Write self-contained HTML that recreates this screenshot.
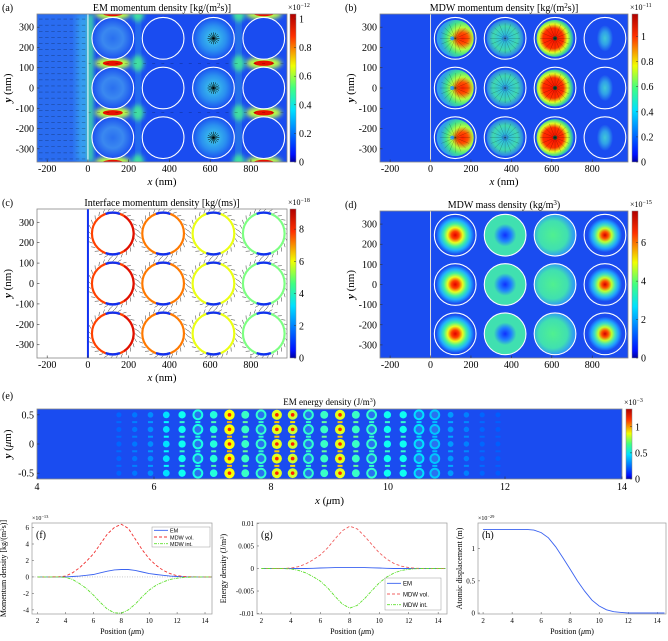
<!DOCTYPE html>
<html><head><meta charset="utf-8"><title>Momentum density figure</title>
<style>
html,body{margin:0;padding:0;background:#fff;}
svg{display:block;}
.ser{font-family:"Liberation Serif",serif;}
.san{font-family:"Liberation Sans",sans-serif;}
</style></head>
<body>
<svg id="fig" width="668" height="641" viewBox="0 0 668 641" xmlns="http://www.w3.org/2000/svg">
<defs>
<filter id="blur2" x="-50%" y="-50%" width="200%" height="200%"><feGaussianBlur stdDeviation="2.5"/></filter>
<filter id="blur4" x="-50%" y="-50%" width="200%" height="200%"><feGaussianBlur stdDeviation="4"/></filter>
<linearGradient id="jetv" x1="0" y1="1" x2="0" y2="0">
<stop offset="0" stop-color="#0000a0"/><stop offset="0.05" stop-color="#0010ff"/><stop offset="0.35" stop-color="#00e0ff"/><stop offset="0.5" stop-color="#40ff80"/><stop offset="0.65" stop-color="#f0ff00"/><stop offset="0.85" stop-color="#ff3000"/><stop offset="1" stop-color="#b00000"/>
</linearGradient>
<radialGradient id="gA3"><stop offset="0" stop-color="#40d0e8"/><stop offset="0.6" stop-color="#2a90f0"/><stop offset="1" stop-color="#1a50f0"/></radialGradient>
<radialGradient id="gA1"><stop offset="0" stop-color="#2a70f0"/><stop offset="0.5" stop-color="#3a88f0"/><stop offset="1" stop-color="#1a50f0"/></radialGradient>
<radialGradient id="gB1" cx="0.7" cy="0.5" r="0.6"><stop offset="0" stop-color="#ff2000"/><stop offset="0.25" stop-color="#ff5000"/><stop offset="0.5" stop-color="#b0ff40"/><stop offset="0.75" stop-color="#40e090"/><stop offset="1" stop-color="#30a0e8"/></radialGradient>
<radialGradient id="gB2" cx="0.5" cy="0.5" r="0.55"><stop offset="0" stop-color="#2060ff"/><stop offset="0.18" stop-color="#30c0e0"/><stop offset="0.6" stop-color="#40d8b0"/><stop offset="0.85" stop-color="#3090e0"/><stop offset="1" stop-color="#1a50f0"/></radialGradient>
<radialGradient id="gB3" cx="0.45" cy="0.5" r="0.55"><stop offset="0" stop-color="#ff1000"/><stop offset="0.5" stop-color="#ff3000"/><stop offset="0.7" stop-color="#e0ff20"/><stop offset="0.88" stop-color="#40d890"/><stop offset="1" stop-color="#2a80f0"/></radialGradient>
<radialGradient id="gB4" cx="0.5" cy="0.5" r="0.5"><stop offset="0" stop-color="#40c8d8"/><stop offset="0.5" stop-color="#30a0e8"/><stop offset="1" stop-color="#1a50f0"/></radialGradient>
<radialGradient id="gD1"><stop offset="0" stop-color="#e00000"/><stop offset="0.2" stop-color="#ff4000"/><stop offset="0.4" stop-color="#e8ff20"/><stop offset="0.6" stop-color="#40f0a0"/><stop offset="0.8" stop-color="#20b0ff"/><stop offset="1" stop-color="#1a50f0"/></radialGradient>
<radialGradient id="gD2"><stop offset="0" stop-color="#1030ff"/><stop offset="0.3" stop-color="#2080ff"/><stop offset="0.55" stop-color="#40e0b0"/><stop offset="1" stop-color="#40e0b0"/></radialGradient>
<radialGradient id="gD3" cx="0.45"><stop offset="0" stop-color="#50f090"/><stop offset="0.7" stop-color="#40e0b0"/><stop offset="1" stop-color="#30a0f0"/></radialGradient>
<radialGradient id="gD4"><stop offset="0" stop-color="#d00000"/><stop offset="0.2" stop-color="#ff5000"/><stop offset="0.4" stop-color="#c0ff30"/><stop offset="0.6" stop-color="#40e0c0"/><stop offset="0.8" stop-color="#20a0ff"/><stop offset="1" stop-color="#1a50f0"/></radialGradient>
</defs>
</svg>
<script>
// ===== data arrays =====
const circleX = [122, 369, 616, 863];
const circleY = [245, 0, -245];
const circleR = 103;
const nmTicksX = [-200, 0, 200, 400, 600, 800];
const nmTicksY = [300, 200, 100, 0, -100, -200, -300];
const cbTicksA = [0, 0.2, 0.4, 0.6, 0.8, 1];
const cbTicksB = [0, 0.2, 0.4, 0.6, 0.8, 1];
const cbTicksC = [0, 2, 4, 6, 8];
const cbTicksD = [0, 2, 4, 6];
const cbTicksE = [0, 0.5, 1];
const ringLevelC = [7.5, 7.0, 5.6, 4.6];
const eCols = [5.4,5.67,5.94,6.21,6.48,6.75,7.02,7.29,7.56,7.83,8.1,8.37,8.64,8.91,9.18,9.45,9.72,9.99,10.26,10.53,10.8,11.07,11.34,11.61,11.88];
const eVals = [0.06,0.1,0.15,0.35,0.45,0.4,0.5,1.0,0.55,0.45,0.95,0.9,0.45,0.55,0.95,0.55,0.45,0.45,0.45,0.28,0.22,0.18,0.12,0.06,0.04];
const eRing = [0,0,0,0,0,1,0,0,0,1,0,0,1,0,0,0,1,0,0,1,1,0,0,0,0];
const eRows = [0.5, 0.25, 0, -0.25, -0.5];
const eTicksX = [4, 6, 8, 10, 12, 14];
const eTicksY = [0.5, 0, -0.5];
const pos = [2,2.5,3,3.5,4,4.5,5,5.5,6,6.5,7,7.5,8,8.5,9,9.5,10,10.5,11,11.5,12,12.5,13,13.5,14,14.5];
const fEM  = [0,0,0,0,0,0.05,0.1,0.2,0.3,0.5,0.7,0.85,0.9,0.9,0.8,0.6,0.4,0.3,0.2,0.1,0.05,0.02,0,0,0,0];
const fVol = [0,0,0,0.02,0.1,0.5,1.1,1.9,2.8,4.0,5.2,6.0,6.4,5.9,4.6,3.3,2.2,1.4,0.8,0.4,0.15,0.05,0.02,0,0,0];
const fInt = [0,0,0,0,-0.05,-0.3,-0.8,-1.4,-2.2,-3.1,-3.9,-4.35,-4.4,-4.0,-3.3,-2.4,-1.6,-1.0,-0.6,-0.3,-0.15,-0.05,-0.02,0,0,0];
const gEM  = [0,0,0,0,0,0,0,0.05,0.1,0.15,0.2,0.2,0.2,0.2,0.2,0.15,0.1,0.05,0,0,0,0,0,0,0,0];
const gVol = [0,0,0,0,0.1,0.4,1.0,1.9,3.0,4.6,6.6,8.4,9.4,8.8,7.2,5.3,3.5,2.1,1.1,0.5,0.2,0.05,0,0,0,0];
const gInt = [0,0,0,0,-0.1,-0.4,-0.95,-1.8,-2.8,-4.3,-6.2,-7.9,-8.8,-8.2,-6.7,-4.9,-3.2,-1.9,-1.0,-0.45,-0.18,-0.05,0,0,0,0];
const hDisp = [1.3,1.3,1.3,1.3,1.3,1.3,1.3,1.29,1.25,1.17,1.03,0.86,0.68,0.5,0.34,0.2,0.11,0.05,0.02,0.01,0,0,0,0,0,0];
const posTicks = [2,4,6,8,10,12,14];
const fTicks = [-4,-2,0,2,4,6];
const gTicks = [-0.01,-0.005,0,0.005,0.01];
const gTickLbl = ['-0.01','-0.005','0','0.005','0.01'];
const hTicks = [0,0.5,1];

// ===== helpers =====
const NS='http://www.w3.org/2000/svg';
const fig=document.getElementById('fig');
function mk(tag, a, parent){const e=document.createElementNS(NS,tag);for(const k in a)e.setAttribute(k,a[k]);(parent||fig).appendChild(e);return e;}
function txt(s,x,y,size,anchor,parent,cls){const t=mk('text',{x:x,y:y,'font-size':size,'text-anchor':anchor||'middle',class:cls||'ser',fill:'#000'},parent);t.textContent=s;return t;}
function lin(d0,d1,r0,r1){return v=>r0+(v-d0)/(d1-d0)*(r1-r0);}
function clamp(v){return Math.max(0,Math.min(1,v));}
function jet(v){const r=clamp(1.5-Math.abs(4*v-3)),g=clamp(1.5-Math.abs(4*v-2)),b=clamp(1.5-Math.abs(4*v-1));return `rgb(${Math.round(r*255)},${Math.round(g*255)},${Math.round(b*255)})`;}
const BG='#1a4cf0';

function mapPanel(P){
  const g=mk('g',{});
  
  
  P.sx=lin(-250,977,P.x0,P.x1); P.sy=lin(365,-365,P.y0,P.y1);
  P.g=g;
  const clip=mk('clipPath',{id:'clip-'+P.name},g);
  mk('rect',{x:P.x0,y:P.y0,width:P.x1-P.x0,height:P.y1-P.y0},clip);
  P.inner=mk('g',{'clip-path':'url(#clip-'+P.name+')'},g);
  const bg=mk('rect',{x:P.x0,y:P.y0,width:P.x1-P.x0,height:P.y1-P.y0,fill:P.bg},P.inner);
  
  
  return P;
}
function mapAxes(P,xlab){
  const g=P.g;
  const fr=mk('rect',{x:P.x0,y:P.y0,width:P.x1-P.x0,height:P.y1-P.y0,fill:'none',stroke:'#888','stroke-width':0.8},g);
  
  
  nmTicksX.forEach(v=>{const x=P.sx(v);mk('line',{x1:x,x2:x,y1:P.y1,y2:P.y1-2.5,stroke:'#333','stroke-width':0.6},g);
    const t=txt(String(v),x,P.y1+10,10,'middle',g);
    
    });
  nmTicksY.forEach(v=>{const y=P.sy(v);mk('line',{x1:P.x0,x2:P.x0+2.5,y1:y,y2:y,stroke:'#333','stroke-width':0.6},g);
    const t=txt(String(v),P.x0-3,y+3.5,10,'end',g);
    
    });
  if(xlab){const t=mk('text',{x:(P.x0+P.x1)/2,y:P.y1+23,'font-size':11,'text-anchor':'middle',class:'ser'},g);
    t.innerHTML='<tspan font-style="italic">x</tspan> (nm)';
    
    }
  const yl=mk('text',{x:0,y:0,'font-size':11,'text-anchor':'middle',class:'ser',transform:`translate(${P.x0-26},${(P.y0+P.y1)/2}) rotate(-90)`},g);
  yl.innerHTML='<tspan font-style="italic" font-weight="bold">y</tspan> (nm)';
  
  
  const lb=txt(P.label,P.x0-35,P.y0-3,10,'start',g);
  
  
  const tt=mk('text',{x:(P.x0+P.x1)/2,y:P.y0-3,'font-size':10,'text-anchor':'middle',class:'ser'},g);
  tt.innerHTML=P.title;
  
  
}
function colorbar(name,x,y0,y1,max,ticks,expo,parent){
  const g=mk('g',{},parent);
  
  
  mk('rect',{x:x,y:y0,width:6,height:y1-y0,fill:'url(#jetv)',stroke:'#888','stroke-width':0.5},g);
  const s=lin(0,max,y1,y0);
  ticks.forEach(v=>{const y=s(v);mk('line',{x1:x+4,x2:x+6,y1:y,y2:y,stroke:'#333','stroke-width':0.5},g);
    const t=txt(String(v),x+9,y+3.5,10,'start',g);
    
    });
  const e=mk('text',{x:x-2,y:y0-4,'font-size':8,'text-anchor':'start',class:'ser'},g);
  e.innerHTML='×10<tspan dy="-3" font-size="6">'+expo+'</tspan>';
  
  
}
function whiteCircles(P,stroke,width){
  circleX.forEach(cx=>circleY.forEach(cy=>{
    const c=mk('circle',{cx:P.sx(cx),cy:P.sy(cy),r:circleR*0.2025,fill:'none',stroke:stroke,'stroke-width':width},P.inner);
    
    
  }));
}

// ===== (a) =====
const A=mapPanel({name:'panel-a-em-momentum',x0:37,x1:287,y0:14,y1:162,bg:BG,label:'(a)',title:'EM momentum density [kg/(m<tspan dy="-3" font-size="7">2</tspan><tspan dy="3">s)]</tspan>'});
mk('rect',{x:A.x0,y:A.y0,width:A.sx(0)-A.x0,height:A.y1-A.y0,fill:'#2a6cf0'},A.inner);
mk('rect',{x:A.sx(-50),y:A.y0,width:A.sx(0)-A.sx(-50),height:A.y1-A.y0,fill:'#38a8f0',filter:'url(#blur4)'},A.inner);
mk('rect',{x:A.sx(0),y:A.y0,width:A.sx(25)-A.sx(0),height:A.y1-A.y0,fill:'#40e0a0',filter:'url(#blur2)'},A.inner);
mk('rect',{x:A.sx(240),y:A.y0,width:A.sx(255)-A.sx(240),height:A.y1-A.y0,fill:'#38b0e8',filter:'url(#blur4)'},A.inner);
mk('rect',{x:A.sx(732),y:A.y0,width:A.sx(748)-A.sx(732),height:A.y1-A.y0,fill:'#38c0d8',filter:'url(#blur4)'},A.inner);
[367,122,-122,-367].forEach(yy=>{
  [122,863].forEach(xx=>{
    mk('ellipse',{cx:A.sx(xx),cy:A.sy(yy),rx:18,ry:6,fill:'#c0ff40',filter:'url(#blur2)'},A.inner);
    mk('ellipse',{cx:A.sx(xx),cy:A.sy(yy),rx:10,ry:2.6,fill:'#e81000'},A.inner);
  });
  mk('ellipse',{cx:A.sx(245),cy:A.sy(yy),rx:6,ry:8,fill:'#40e0a0',filter:'url(#blur2)'},A.inner);
  mk('ellipse',{cx:A.sx(740),cy:A.sy(yy),rx:6,ry:8,fill:'#40e0a0',filter:'url(#blur2)'},A.inner);
});
circleX.forEach((cx,i)=>circleY.forEach(cy=>{
  const f=i===0?'url(#gA1)':(i===2?'url(#gA3)':BG);
  const c=mk('circle',{cx:A.sx(cx),cy:A.sy(cy),r:circleR*0.2025,fill:f},A.inner);
  
  
}));
for(let xx=-240;xx<0;xx+=30){for(let yy=-350;yy<=350;yy+=30){
  mk('line',{x1:A.sx(xx),x2:A.sx(xx)+3.5,y1:A.sy(yy),y2:A.sy(yy),stroke:'#000','stroke-width':0.4,opacity:0.55},A.inner);}}
for(let xx=0;xx<977;xx+=45){[122,-122].forEach(yy=>{
  mk('line',{x1:A.sx(xx),x2:A.sx(xx)+3,y1:A.sy(yy),y2:A.sy(yy),stroke:'#000','stroke-width':0.4,opacity:0.5},A.inner);});}
circleY.forEach(cy=>{const x=A.sx(616),y=A.sy(cy);
  for(let k=0;k<8;k++){const a=k*Math.PI/8;mk('line',{x1:x-6*Math.cos(a),x2:x+6*Math.cos(a),y1:y-6*Math.sin(a),y2:y+6*Math.sin(a),stroke:'#000','stroke-width':0.5},A.inner);}});
mk('line',{x1:A.sx(0),x2:A.sx(0),y1:A.y0,y2:A.y1,stroke:'#fff','stroke-width':1},A.inner);
whiteCircles(A,'#fff',1.1);
mapAxes(A,true);
colorbar('colorbar-a',290,14,162,1.035,cbTicksA,'−12');

// ===== (b) =====
const B=mapPanel({name:'panel-b-mdw-momentum',x0:380,x1:628,y0:14,y1:162,bg:BG,label:'(b)',title:'MDW momentum density [kg/(m<tspan dy="-3" font-size="7">2</tspan><tspan dy="3">s)]</tspan>'});
const bFill=['url(#gB1)','url(#gB2)','url(#gB3)','url(#gB4)'];
circleX.forEach((cx,i)=>circleY.forEach(cy=>{
  let c;
  if(i===3){c=mk('ellipse',{cx:B.sx(cx),cy:B.sy(cy),rx:8,ry:13,fill:bFill[i]},B.inner);}
  else {c=mk('circle',{cx:B.sx(cx),cy:B.sy(cy),r:18.5,fill:bFill[i]},B.inner);}
  
  
  if(i<3){const x=B.sx(cx),y=B.sy(cy);
    const dx=i===0?-3:0;
    const dot=mk('circle',{cx:x+dx,cy:y,r:2,fill:i===2?'#206040':'#40b0ff'},B.inner);
    
    
    for(let k=0;k<8;k++){const a=k*Math.PI/8;mk('line',{x1:x-15*Math.cos(a),x2:x+15*Math.cos(a),y1:y-15*Math.sin(a),y2:y+15*Math.sin(a),stroke:'#000','stroke-width':0.35,opacity:0.45},B.inner);}}
}));
mk('line',{x1:B.sx(0),x2:B.sx(0),y1:B.y0,y2:B.y1,stroke:'#ddd','stroke-width':1},B.inner);
whiteCircles(B,'#fff',1.1);
mapAxes(B,true);
colorbar('colorbar-b',632,14,162,1.18,cbTicksB,'−11');

// ===== (c) =====
const C=mapPanel({name:'panel-c-interface-momentum',x0:37,x1:287,y0:209,y1:358,bg:'#fff',label:'(c)',title:'Interface momentum density [kg/(ms)]'});
const cS=lin(0,9.25,0,1);
circleX.forEach((cx,i)=>circleY.forEach(cy=>{
  const x=C.sx(cx),y=C.sy(cy),r=circleR*0.2025;
  for(let k=0;k<28;k++){const a=k*2*Math.PI/28;
    mk('line',{x1:x+(r+1.5)*Math.cos(a),y1:y+(r+1.5)*Math.sin(a),x2:x+(r+4.5)*Math.cos(a+0.12),y2:y+(r+4.5)*Math.sin(a+0.12),stroke:'#222','stroke-width':0.45},C.inner);}
  const ring=mk('circle',{cx:x,cy:y,r:r,fill:'none',stroke:jet(cS(ringLevelC[i])),'stroke-width':2.2},C.inner);
  
  
  if(i===0){mk('path',{d:`M${x+r*Math.cos(-1)} ${y+r*Math.sin(-1)} A${r} ${r} 0 0 1 ${x+r*Math.cos(1)} ${y+r*Math.sin(1)}`,fill:'none',stroke:'#e01000','stroke-width':2.2},C.inner);}
  [-Math.PI/2,Math.PI/2].forEach(a0=>{
    mk('path',{d:`M${x+r*Math.cos(a0-0.35)} ${y+r*Math.sin(a0-0.35)} A${r} ${r} 0 0 1 ${x+r*Math.cos(a0+0.35)} ${y+r*Math.sin(a0+0.35)}`,fill:'none',stroke:'#1030f0','stroke-width':2.4},C.inner);});
}));
mk('line',{x1:C.sx(0),x2:C.sx(0),y1:C.y0,y2:C.y1,stroke:'#1030f0','stroke-width':2},C.inner);
mapAxes(C,true);
colorbar('colorbar-c',290,209,358,9.25,cbTicksC,'−18');

// ===== (d) =====
const D=mapPanel({name:'panel-d-mdw-mass',x0:380,x1:628,y0:211,y1:358,bg:BG,label:'(d)',title:'MDW mass density (kg/m<tspan dy="-3" font-size="7">3</tspan><tspan dy="3">)</tspan>'});
const dFill=['url(#gD1)','url(#gD2)','url(#gD3)','url(#gD4)'];
const dR=[19,20.5,20.5,17];
circleX.forEach((cx,i)=>circleY.forEach(cy=>{
  const c=mk('circle',{cx:D.sx(cx),cy:D.sy(cy),r:dR[i],fill:dFill[i]},D.inner);
  
  
}));
mk('line',{x1:D.sx(0),x2:D.sx(0),y1:D.y0,y2:D.y1,stroke:'#ddd','stroke-width':1},D.inner);
whiteCircles(D,'#fff',1.1);
mapAxes(D,false);
colorbar('colorbar-d',632,211,358,7.65,cbTicksD,'−15');

// ===== (e) =====
(function(){
  const x0=37,x1=622,y0=409,y1=479;
  const g=mk('g',{});
  
  
  const sx=lin(4,14,x0,x1), sy=lin(0.6,-0.6,y0,y1);
  const bg=mk('rect',{x:x0,y:y0,width:x1-x0,height:y1-y0,fill:BG},g);
  
  
  const clip=mk('clipPath',{id:'clip-e'},g);
  mk('rect',{x:x0,y:y0,width:x1-x0,height:y1-y0},clip);
  const inner=mk('g',{'clip-path':'url(#clip-e)'},g);
  eCols.forEach((c,i)=>{
    const v=eVals[i], x=sx(c);
    eRows.forEach(r=>{
      const y=sy(r);
      if(eRing[i]){
        const ring=mk('circle',{cx:x,cy:y,r:4.4,fill:'#2a70f0',stroke:jet(0.22+v*0.45),'stroke-width':2},inner);
        
        
      } else {
        const d=mk('circle',{cx:x,cy:y,r:2.4+v*2.8,fill:jet(0.2+Math.min(1,v)*0.42)},inner);
        
        
        if(v>0.85){const h=mk('circle',{cx:x,cy:y,r:1.8,fill:'#ff2000'},inner);
          
          }
      }
    });
    [0.625,0.375,0.125,-0.125,-0.375,-0.625].forEach(r=>{
      const dash=mk('rect',{x:x-2.5,y:sy(r)-1,width:5,height:2,fill:jet(0.2+v*0.5)},inner);
      
      
    });
  });
  mk('rect',{x:x0,y:y0,width:x1-x0,height:y1-y0,fill:'none',stroke:'#888','stroke-width':0.8},g);
  eTicksX.forEach(v=>{const x=sx(v);mk('line',{x1:x,x2:x,y1:y1,y2:y1-2.5,stroke:'#333','stroke-width':0.6},g);
    const t=txt(String(v),x,y1+11,10,'middle',g);
    
    });
  eTicksY.forEach(v=>{const y=sy(v);mk('line',{x1:x0,x2:x0+2.5,y1:y,y2:y,stroke:'#333','stroke-width':0.6},g);
    const t=txt(String(v),x0-3,y+3.5,10,'end',g);
    
    });
  const xt=mk('text',{x:(x0+x1)/2,y:y1+25,'font-size':11,'text-anchor':'middle',class:'ser'},g);
  xt.innerHTML='<tspan font-style="italic">x</tspan> (<tspan font-style="italic">μ</tspan>m)';
  
  
  const yt=mk('text',{x:0,y:0,'font-size':11,'text-anchor':'middle',class:'ser',transform:`translate(${x0-26},${(y0+y1)/2}) rotate(-90)`},g);
  yt.innerHTML='<tspan font-style="italic" font-weight="bold">y</tspan> (<tspan font-style="italic">μ</tspan>m)';
  
  
  const lb=txt('(e)',2,y0-10,10,'start',g);
  
  
  const tt=mk('text',{x:(x0+x1)/2,y:y0-4,'font-size':9,'text-anchor':'middle',class:'ser'},g);
  tt.innerHTML='EM energy density (J/m<tspan dy="-3" font-size="6">3</tspan><tspan dy="3">)</tspan>';
  
  
  colorbar('colorbar-e',626,y0,y1,1.34,cbTicksE,'−3',g);
})();

// ===== line charts =====
function lineChart(o){
  const g=mk('g',{});
  
  
  const sx=lin(o.xd[0],o.xd[1],o.x0,o.x1), sy=lin(o.yd[0],o.yd[1],o.y1,o.y0);
  mk('rect',{x:o.x0,y:o.y0,width:o.x1-o.x0,height:o.y1-o.y0,fill:'#fff',stroke:'#999','stroke-width':0.7},g);
  if(o.zero){const z=mk('line',{x1:o.x0,x2:o.x1,y1:sy(0),y2:sy(0),stroke:'#aaa','stroke-width':0.6,'stroke-dasharray':'1,1.5'},g);
    
    }
  posTicks.forEach(v=>{const x=sx(v);mk('line',{x1:x,x2:x,y1:o.y1,y2:o.y1-2,stroke:'#555','stroke-width':0.5},g);
    const t=txt(String(v),x,o.y1+9,7,'middle',g);
    
    });
  o.yt.forEach((v,i)=>{const y=sy(v);mk('line',{x1:o.x0,x2:o.x0+2,y1:y,y2:y,stroke:'#555','stroke-width':0.5},g);
    const t=txt(o.ytl?o.ytl[i]:String(v),o.x0-3,y+2.5,7,'end',g);
    
    });
  o.series.forEach(s=>{
    const d=pos.map((p,i)=>(i?'L':'M')+sx(p).toFixed(1)+' '+sy(s.v[i]).toFixed(1)).join(' ');
    const p=mk('path',{d:d,fill:'none',stroke:s.c,'stroke-width':0.9,'stroke-dasharray':s.dash||'none'},g);
    
    
  });
  const xt=mk('text',{x:(o.x0+o.x1)/2,y:o.y1+20,'font-size':8,'text-anchor':'middle',class:'ser'},g);
  xt.innerHTML='Position (<tspan font-style="italic">μ</tspan>m)';
  
  
  const yt=mk('text',{x:0,y:0,'font-size':8,'text-anchor':'middle',class:'ser',transform:`translate(${o.ylx},${(o.y0+o.y1)/2}) rotate(-90)`},g);
  yt.innerHTML=o.ylab;
  
  
  const lb=txt(o.label,o.x0+4,o.y0+15,10,'start',g);
  
  
  if(o.expo){const e=mk('text',{x:o.x0,y:o.y0-3,'font-size':6,'text-anchor':'start',class:'ser'},g);
    e.innerHTML='×10<tspan dy="-2" font-size="4.5">'+o.expo+'</tspan>';
    
    }
  if(o.leg){const L=o.leg;
    const lg=mk('g',{},g);
    
    
    mk('rect',{x:L.x,y:L.y,width:L.w,height:L.h,fill:'#fff',stroke:'#999','stroke-width':0.5},lg);
    o.series.forEach((s,i)=>{const y=L.y+L.h/6+i*L.h/3;
      const e=mk('g',{},lg);
      
      
      mk('line',{x1:L.x+2,x2:L.x+16,y1:y,y2:y,stroke:s.c,'stroke-width':0.9,'stroke-dasharray':s.dash||'none'},e);
      txt(s.label,L.x+18,y+2.3,L.fs,'start',e,'san');});
  }
}
lineChart({name:'panel-f-momentum-lines',x0:32,x1:212,y0:523,y1:614,xd:[1.6,14.5],yd:[-4.5,6.55],yt:fTicks,zero:true,
  series:[{name:'line-em',label:'EM',v:fEM,c:'#3a62f0'},{name:'line-mdw-vol',label:'MDW vol.',v:fVol,c:'#f03030',dash:'3,2'},{name:'line-mdw-int',label:'MDW int.',v:fInt,c:'#60e030',dash:'3,1,1,1'}],
  ylx:6,ylab:'Momentum density [kg/(m<tspan dy="-2" font-size="5">2</tspan><tspan dy="2">s)]</tspan>',label:'(f)',expo:'−13',
  leg:{x:152,y:527,w:58,h:20,fs:5.5}});
lineChart({name:'panel-g-energy-lines',x0:257,x1:447,y0:523,y1:614,xd:[1.7,14.6],yd:[-0.0101,0.0101],yt:gTicks,ytl:gTickLbl,zero:false,
  series:[{name:'line-em',label:'EM',v:gEM.map(v=>v/1000),c:'#3a62f0'},{name:'line-mdw-vol',label:'MDW vol.',v:gVol.map(v=>v/1000),c:'#f06060',dash:'3,2'},{name:'line-mdw-int',label:'MDW int.',v:gInt.map(v=>v/1000),c:'#60e030',dash:'3,1,1,1'}],
  ylx:226,ylab:'Energy density (J/m<tspan dy="-2" font-size="5">3</tspan><tspan dy="2">)</tspan>',label:'(g)',
  leg:{x:385,y:578,w:56,h:32,fs:6}});
lineChart({name:'panel-h-displacement',x0:478,x1:666,y0:523,y1:614,xd:[1.65,14.6],yd:[-0.015,1.4],yt:hTicks,zero:false,
  series:[{name:'line-displacement',label:'',v:hDisp,c:'#3a62f0'}],
  ylx:462,ylab:'Atomic displacement (m)',label:'(h)',expo:'−29'});
</script>
</body></html>
